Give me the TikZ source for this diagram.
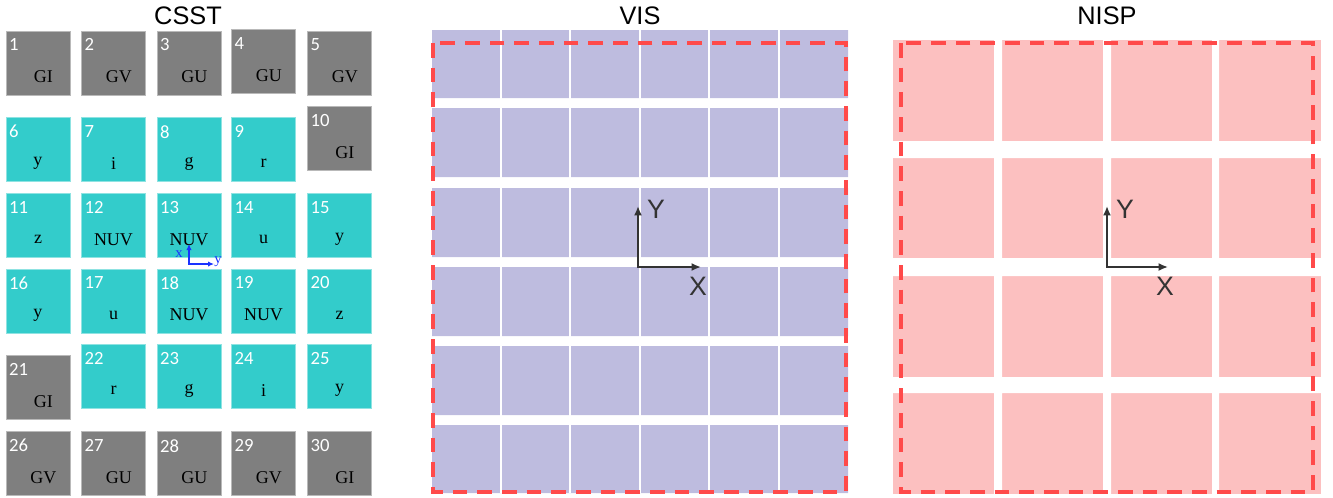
\documentclass[tikz,border=0pt]{standalone}
\usepackage{fontspec}
\setmainfont{Liberation Serif}
\setsansfont{Liberation Sans}
\newfontfamily\numfont{Carlito}
\usepackage{xcolor}
\usetikzlibrary{arrows.meta, positioning}

\definecolor{ccdgray}{HTML}{7F7F7F}
\definecolor{ccdcyan}{HTML}{33CCCB}
\definecolor{vislilac}{HTML}{BEBCDF}
\definecolor{nisppink}{HTML}{FCC0C0}
\definecolor{fovred}{HTML}{FF4A4A}
\definecolor{axisdark}{HTML}{333333}
\definecolor{axisblue}{HTML}{1A33FF}

\begin{document}
\begin{tikzpicture}[
        x=0.75pt, y=-0.75pt,
        title/.style={font=\sffamily\fontsize{19}{22}\selectfont},
        tile/.style={rectangle, minimum size=48pt, inner sep=0pt, line width=0.6pt},
        gtile/.style={tile, fill=ccdgray, draw=ccdgray!55!white},
        ctile/.style={tile, fill=ccdcyan, draw=ccdcyan!55!white},
        numlbl/.style={anchor=north west, inner sep=0pt, xshift=2.5pt, yshift=-6pt, text=white, font=\numfont\fontsize{14}{15}\selectfont},
        num/.style={label={[numlbl]north west:#1}},
        bandlbl/.style={anchor=base, inner sep=0pt, yshift=-10.5pt, font=\fontsize{13.5}{14}\selectfont},
        gband/.style={label={[bandlbl, xshift=4pt]center:#1}},
        cband/.style={label={[bandlbl]center:#1}},
        fov/.style={draw=fovred, line width=2.6pt, dash pattern=on 11pt off 7.5pt},
        axis/.style={draw=axisdark, line width=2.2pt, {Latex[length=7pt,width=6pt]}-{Latex[length=7pt,width=6pt]}},
        axlbl/.style={font=\sffamily\fontsize{20}{22}\selectfont, text=axisdark, inner sep=0pt},
        caxis/.style={draw=axisblue, line width=1pt, {Latex[length=4.5pt,width=4pt]}-{Latex[length=4.5pt,width=4pt]}},
        clbl/.style={font=\fontsize{11}{12}\selectfont, text=axisblue, inner sep=0pt}
    ]
        \useasboundingbox (0,0) rectangle (1333,497);

        % CSST
        \node[title] (csst) at (188,16) {CSST};
        \node[gtile, num=1, gband=GI] (t1) at (38,63) {};
        \node[gtile, num=2, gband=GV] (t2) at (113.5,63) {};
        \node[gtile, num=3, gband=GU] (t3) at (189,63) {};
        \node[gtile, num=4, gband=GU] (t4) at (263.5,61.5) {};
        \node[gtile, num=5, gband=GV] (t5) at (339.5,63) {};
        \node[ctile, num=6, cband=y] (t6) at (38,149.5) {};
        \node[ctile, num=7, cband=i] (t7) at (113.5,149.5) {};
        \node[ctile, num=8, cband=g] (t8) at (189,149.5) {};
        \node[ctile, num=9, cband=r] (t9) at (263.5,149.5) {};
        \node[gtile, num=10, gband=GI] (t10) at (339.5,138.5) {};
        \node[ctile, num=11, cband=z] (t11) at (38,225.5) {};
        \node[ctile, num=12, cband=NUV] (t12) at (113.5,225.5) {};
        \node[ctile, num=13, cband=NUV] (t13) at (189,225.5) {};
        \node[ctile, num=14, cband=u] (t14) at (263.5,225.5) {};
        \node[ctile, num=15, cband=y] (t15) at (339.5,225.5) {};
        \node[ctile, num=16, cband=y] (t16) at (38,301) {};
        \node[ctile, num=17, cband=u] (t17) at (113.5,301) {};
        \node[ctile, num=18, cband=NUV] (t18) at (189,301) {};
        \node[ctile, num=19, cband=NUV] (t19) at (263.5,301) {};
        \node[ctile, num=20, cband=z] (t20) at (339.5,301) {};
        \node[gtile, num=21, gband=GI] (t21) at (38,387.5) {};
        \node[ctile, num=22, cband=r] (t22) at (113.5,376.5) {};
        \node[ctile, num=23, cband=g] (t23) at (189,376.5) {};
        \node[ctile, num=24, cband=i] (t24) at (263.5,376.5) {};
        \node[ctile, num=25, cband=y] (t25) at (339.5,376.5) {};
        \node[gtile, num=26, gband=GV] (t26) at (38,463.5) {};
        \node[gtile, num=27, gband=GU] (t27) at (113.5,463.5) {};
        \node[gtile, num=28, gband=GU] (t28) at (189,463.5) {};
        \node[gtile, num=29, gband=GV] (t29) at (263.5,463.5) {};
        \node[gtile, num=30, gband=GI] (t30) at (339.5,463.5) {};

        % chip frame on tile 13
        \coordinate (cO) at (189,264);
        \coordinate (cX) at (189,244);
        \coordinate (cY) at (214,264);
        \draw[caxis] (cX) -- (cO) -- (cY);
        \node[clbl] (cxl) at (179,254) {x};
        \node[clbl] (cyl) at (218,262) {y};

        % VIS
        \node[title] (vis) at (640,16) {VIS};
        \fill[vislilac] (432,30) rectangle (848,98) (432,108) rectangle (848,177)
            (432,188) rectangle (848,257) (432,267) rectangle (848,336)
            (432,346) rectangle (848,415) (432,425) rectangle (848,493);
        \draw[white, line width=1.5pt] (501,30) -- (501,493) (570,30) -- (570,493)
            (640,30) -- (640,493) (709,30) -- (709,493) (779,30) -- (779,493);
        \draw[fov] (433,43) rectangle (846,492);
        \coordinate (vO) at (638,267);
        \coordinate (vY) at (638,206);
        \coordinate (vX) at (701,267);
        \draw[axis] (vY) -- (vO) -- (vX);
        \node[axlbl] (vYl) at (656,209) {Y};
        \node[axlbl] (vXl) at (698,286) {X};

        % NISP
        \node[title] (nisp) at (1107,16) {NISP};
        \fill[nisppink] (893,40) rectangle (1321,494);
        \fill[white] (994,40) rectangle (1002,494) (1103,40) rectangle (1111,494)
            (1212,40) rectangle (1219,494) (893,141) rectangle (1321,158)
            (893,258) rectangle (1321,276) (893,377) rectangle (1321,393);
        \draw[fov] (901,43) rectangle (1313,492);
        \coordinate (nO) at (1107,267);
        \coordinate (nY) at (1107,206);
        \coordinate (nX) at (1168,267);
        \draw[axis] (nY) -- (nO) -- (nX);
        \node[axlbl] (nYl) at (1125,209) {Y};
        \node[axlbl] (nXl) at (1165,286) {X};

\end{tikzpicture}
\end{document}
